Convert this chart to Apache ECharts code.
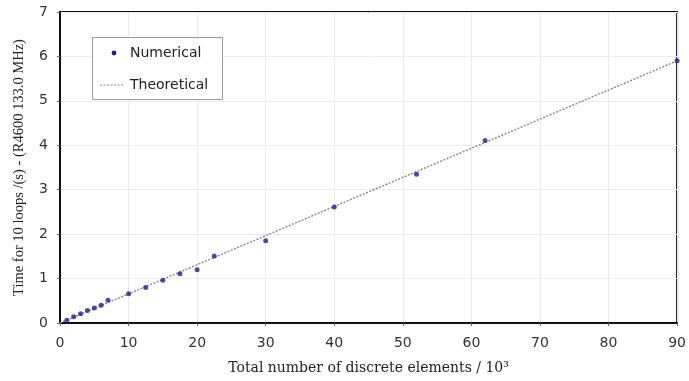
<!DOCTYPE html>
<html>
<head>
<meta charset="utf-8">
<script src="https://cdn.jsdelivr.net/npm/echarts@6/dist/echarts.min.js"></script>
<style>
  html, body { margin: 0; padding: 0; background: #fff; }
  #chart { width: 689px; height: 381px; }
</style>
</head>
<body>
<div id="chart"></div>
<script>
// Number of discrete elements (thousands) and measured time for 10 loops (s)
const elements = [1, 2, 3, 4, 5, 6, 7, 10, 12.5, 15, 17.5, 20, 22.5, 30, 40, 52, 62, 90];
const numericalTime = [0.06, 0.14, 0.21, 0.28, 0.34, 0.40, 0.51, 0.66, 0.80, 0.96, 1.11, 1.20, 1.51, 1.85, 2.61, 3.35, 4.11, 5.90];
// Theoretical linear relation, end points
const theoryX = [0, 90];
const theoryY = [0, 5.90];
const xTicks = [0, 10, 20, 30, 40, 50, 60, 70, 80, 90];
const yTicks = [0, 1, 2, 3, 4, 5, 6, 7];
const seriesNames = ['Numerical', 'Theoretical'];

const chart = echarts.init(document.getElementById('chart'));
const sans = '"DejaVu Sans", sans-serif';
const serifWide = '"DejaVu Serif", serif';
const serif = '"Liberation Serif", "Times New Roman", serif';
const pointColor = '#1f1f88';
const theoryColor = '#8c8290';

// Boxed legend in the upper-left corner of the plot
const legendGraphic = [
  { type: 'rect', shape: { x: 92.5, y: 37.5, width: 130, height: 62 },
    style: { fill: '#fff', stroke: '#9a9a9a', lineWidth: 1 }, z: 10 },
  { type: 'circle', shape: { cx: 114, cy: 53, r: 2.4 },
    style: { fill: pointColor }, z: 11 },
  { type: 'text', x: 130, y: 53,
    style: { text: seriesNames[0], font: '14px ' + sans, fill: '#222', verticalAlign: 'middle' }, z: 11 },
  { type: 'line', shape: { x1: 100, y1: 85, x2: 124, y2: 85 },
    style: { stroke: theoryColor, lineWidth: 1.2, lineDash: [2, 1.5] }, z: 11 },
  { type: 'text', x: 130, y: 85,
    style: { text: seriesNames[1], font: '14px ' + sans, fill: '#222', verticalAlign: 'middle' }, z: 11 }
];

chart.setOption({
  animation: false,
  backgroundColor: '#fff',
  grid: {
    left: 60, right: 7, top: 12, bottom: 58,
    show: true, borderColor: '#111', borderWidth: 2, backgroundColor: 'transparent'
  },
  graphic: legendGraphic,
  xAxis: {
    type: 'value', min: xTicks[0], max: xTicks[xTicks.length - 1], interval: 10,
    name: 'Total number of discrete elements / 10³',
    nameLocation: 'middle', nameGap: 38,
    nameTextStyle: { fontFamily: serifWide, fontSize: 14, color: '#222' },
    axisLine: { show: true, lineStyle: { color: '#111', width: 2 } },
    axisTick: { show: true, length: 3, lineStyle: { color: '#666' } },
    axisLabel: { fontFamily: sans, fontSize: 14, color: '#333', margin: 13 },
    splitLine: { show: true, lineStyle: { color: '#ebebeb', width: 1 } }
  },
  yAxis: {
    type: 'value', min: yTicks[0], max: yTicks[yTicks.length - 1], interval: 1,
    name: 'Time for 10 loops /(s) - (R4600 133.0 MHz)',
    nameLocation: 'middle', nameGap: 33,
    nameTextStyle: { fontFamily: serif, fontSize: 14.5, color: '#222' },
    axisLine: { show: true, lineStyle: { color: '#111', width: 2 } },
    axisTick: { show: true, length: 3, lineStyle: { color: '#666' } },
    axisLabel: { fontFamily: sans, fontSize: 14, color: '#333', margin: 12 },
    splitLine: { show: true, lineStyle: { color: '#ebebeb', width: 1 } }
  },
  series: [
    {
      name: seriesNames[1],
      type: 'line',
      data: theoryX.map((x, i) => [x, theoryY[i]]),
      showSymbol: false,
      symbol: 'none',
      lineStyle: { type: [2, 1.5], color: theoryColor, width: 1.4 },
      z: 2
    },
    {
      name: seriesNames[0],
      type: 'scatter',
      data: elements.map((x, i) => [x, numericalTime[i]]),
      symbol: 'circle',
      symbolSize: 5,
      itemStyle: { color: pointColor },
      z: 3
    }
  ]
});
</script>
</body>
</html>
